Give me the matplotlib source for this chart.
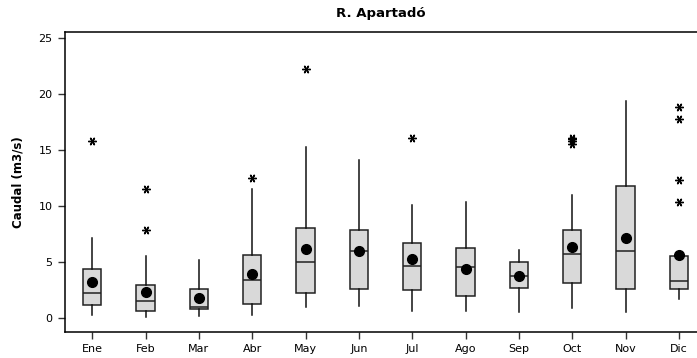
import matplotlib
matplotlib.use("Agg")
import matplotlib.pyplot as plt

plt.rcParams['font.family'] = ['DejaVu Sans']

months = ['Ene', 'Feb', 'Mar', 'Abr', 'May', 'Jun', 'Jul', 'Ago', 'Sep', 'Oct', 'Nov', 'Dic']
whislo = [0.27, 0.12, 0.20, 0.27, 0.96, 1.10, 0.62, 0.62, 0.50, 0.86, 0.50, 1.67]
q1     = [1.16, 0.65, 0.78, 1.25, 2.20, 2.60, 2.50, 1.96, 2.68, 3.10, 2.60, 2.59]
med    = [2.23, 1.55, 1.00, 3.36, 4.97, 6.00, 4.67, 4.52, 3.75, 5.68, 5.98, 3.33]
q3     = [4.35, 2.95, 2.60, 5.65, 8.00, 7.86, 6.67, 6.28, 4.97, 7.86, 11.80, 5.57]
whishi = [7.10, 5.50, 5.20, 11.50, 15.30, 14.10, 10.10, 10.40, 6.07, 11.00, 19.40, 5.57]
means  = [3.24, 2.35, 1.82, 3.93, 6.13, 5.95, 5.24, 4.34, 3.75, 6.30, 7.10, 5.63]
outliers = [[15.8], [7.9, 11.5], [], [12.5], [22.2], [], [16.1], [], [],
            [15.5, 15.8, 16.0, 16.1], [], [10.4, 12.3, 17.8, 18.8]]

stats = []
for i, m in enumerate(months):
    stats.append(dict(label=m, whislo=whislo[i], q1=q1[i], med=med[i],
                      q3=q3[i], whishi=whishi[i], mean=means[i], fliers=outliers[i]))

fig = plt.figure(figsize=(6.97, 3.58), dpi=100)
ax = fig.add_axes([65 / 697, 26 / 358, 1 - 65 / 697, 300 / 358])

ax.bxp(stats, positions=range(1, 13), widths=0.34, patch_artist=True,
       showmeans=True, showcaps=False,
       boxprops=dict(facecolor='#d9d9d9', edgecolor='#222222', linewidth=1.1),
       medianprops=dict(color='#222222', linewidth=1.1),
       whiskerprops=dict(color='#111111', linewidth=1.1),
       meanprops=dict(marker='o', markerfacecolor='black', markeredgecolor='black',
                      markersize=7),
       flierprops=dict(marker=(6, 2, 90), markeredgecolor='black',
                       markersize=6, markeredgewidth=1.0))

ax.set_xlim(0.49, 12.34)
ax.set_ylim(-1.25, 25.54)
ax.set_yticks([0, 5, 10, 15, 20, 25])
ax.set_xticks(range(1, 13))
ax.set_xticklabels(months)
ax.spines['right'].set_visible(False)
for s in ['left', 'bottom', 'top']:
    ax.spines[s].set_linewidth(1.1)
ax.tick_params(axis='both', labelsize=8, length=5, width=1, color='#333333')
ax.tick_params(axis='y', pad=4)
ax.set_ylabel('Caudal (m3/s)', fontsize=8.5, fontweight='bold', labelpad=10)
ax.set_title('R. Apartadó', fontsize=9.5, fontweight='bold', pad=11)

fig.savefig('out.png', dpi=100)
